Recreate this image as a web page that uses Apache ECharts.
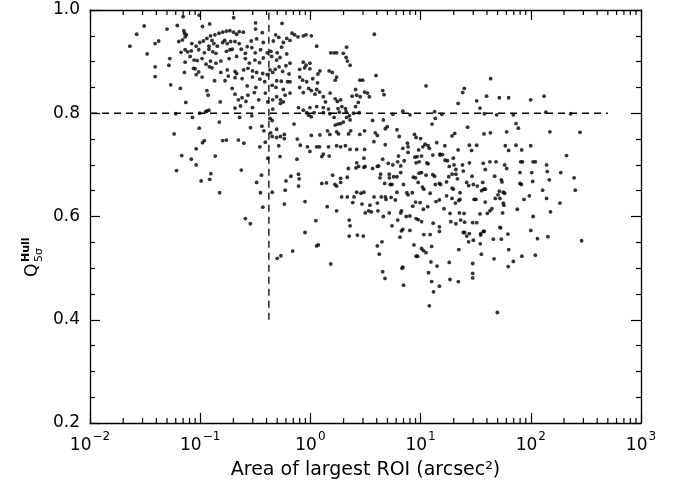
<!DOCTYPE html>
<html><head><meta charset="utf-8">
<script src="https://cdn.jsdelivr.net/npm/echarts@6/dist/echarts.min.js"></script>
<style>html,body{margin:0;padding:0;background:#fff}#c{width:683px;height:488px}</style>
</head><body><div id="c"></div>
<script>
// ---- data ----
const xTickExponents = [-2, -1, 0, 1, 2, 3];
const minorMultipliers = [2, 3, 4, 5, 6, 7, 8, 9];
const yTickValues = [0.2, 0.4, 0.6, 0.8, 1.0];
const thresholdArea = 0.42;     // vertical dashed line
const thresholdAreaFrom = 0.4;  // vertical line starts at Q = 0.4
const thresholdQ = 0.8;         // horizontal dashed line
const thresholdQEnd = 500;      // horizontal line ends at area = 500
const xTitle = 'Area of largest ROI (arcsec\u00B2)';

const roiPoints = [
[0.070,0.987],[0.098,0.990],[0.201,0.985],[0.318,0.975],[0.553,0.974],[0.062,0.970],[0.031,0.969],[0.050,0.963],[0.071,0.960],[0.072,0.955],[0.075,0.952],[0.0265,0.953],[0.105,0.968],[0.122,0.973],
[0.115,0.945],[0.124,0.950],[0.136,0.952],[0.148,0.955],[0.160,0.957],[0.173,0.959],[0.186,0.960],[0.201,0.957],[0.214,0.953],[0.226,0.958],[0.246,0.957],
[0.318,0.963],[0.366,0.956],[0.484,0.952],[0.461,0.940],
[0.681,0.955],[0.719,0.952],[0.771,0.948],[0.862,0.950],[0.912,0.952],[1.02,0.950],
[3.80,0.953],
[0.042,0.940],[0.039,0.935],[0.023,0.930],[0.064,0.939],[0.073,0.948],[0.069,0.942],
[0.084,0.935],[0.092,0.930],[0.099,0.937],[0.107,0.940],[0.120,0.930],[0.128,0.941],[0.133,0.935],[0.143,0.930],[0.160,0.937],[0.167,0.941],[0.176,0.935],[0.189,0.939],[0.207,0.939],[0.226,0.935],
[0.267,0.929],[0.290,0.940],[0.325,0.944],[0.374,0.937],[0.516,0.947],[0.568,0.937],[0.61,0.945],[0.653,0.941],
[1.14,0.930],[2.13,0.928],
[0.033,0.915],[0.067,0.918],[0.073,0.923],[0.077,0.919],[0.083,0.921],[0.097,0.923],[0.109,0.917],[0.120,0.924],[0.130,0.919],[0.139,0.916],[0.173,0.920],[0.186,0.923],[0.195,0.924],[0.236,0.924],[0.257,0.916],[0.294,0.927],[0.316,0.917],[0.353,0.923],[0.406,0.917],[0.439,0.920],[0.50,0.917],[0.548,0.928],[0.61,0.915],
[1.53,0.917],[1.64,0.917],[1.73,0.917],[1.99,0.916],[2.11,0.908],[2.17,0.901],[2.29,0.893],
[0.053,0.906],[0.052,0.893],[0.073,0.899],[0.081,0.910],[0.088,0.903],[0.094,0.902],[0.104,0.906],[0.113,0.895],[0.124,0.901],[0.139,0.897],[0.154,0.901],[0.183,0.906],[0.214,0.910],[0.257,0.906],[0.279,0.897],[0.314,0.903],[0.345,0.898],[0.374,0.907],[0.445,0.910],[0.494,0.903],[0.53,0.908],[0.60,0.892],[0.653,0.897],
[0.862,0.899],[0.912,0.893],[0.99,0.897],
[0.039,0.890],[0.087,0.887],[0.072,0.879],
[0.090,0.886],[0.097,0.880],[0.121,0.890],[0.128,0.888],[0.154,0.879],[0.176,0.884],[0.207,0.881],[0.214,0.877],[0.248,0.884],[0.271,0.887],[0.298,0.882],[0.325,0.879],[0.369,0.877],[0.43,0.884],[0.48,0.885],[0.52,0.890],[0.56,0.881],[0.64,0.876],
[0.80,0.885],[0.886,0.888],[0.99,0.886],[1.17,0.876],[1.22,0.882],[1.48,0.882],[1.58,0.879],[1.73,0.870],
[0.039,0.871],[0.104,0.870],[0.092,0.875],[0.18,0.872],[0.207,0.869],[0.24,0.867],[0.298,0.870],[0.348,0.866],[0.406,0.875],[0.455,0.879],[0.494,0.863],[0.544,0.862],[0.62,0.861],[0.653,0.861],
[0.80,0.870],[0.85,0.864],[0.925,0.861],[1.05,0.867],[1.16,0.859],[1.68,0.864],
[2.81,0.864],[2.98,0.864],[3.94,0.873],
[0.054,0.855],[0.066,0.848],[0.135,0.863],[0.168,0.863],[0.195,0.848],[0.267,0.853],[0.32,0.850],[0.385,0.861],[0.45,0.854],[0.487,0.850],[0.568,0.846],
[0.115,0.844],[0.118,0.835],[0.152,0.822],[0.207,0.837],[0.222,0.826],[0.24,0.830],[0.271,0.835],[0.31,0.840],[0.34,0.826],[0.39,0.839],[0.455,0.826],[0.494,0.832],[0.535,0.826],[0.59,0.835],[0.653,0.839],
[0.80,0.850],[0.862,0.840],[0.965,0.848],[1.02,0.844],[1.10,0.837],[1.14,0.846],[1.21,0.841],[1.31,0.832],[1.37,0.822],[1.51,0.839],[1.68,0.828],[1.76,0.823],[1.88,0.826],
[2.57,0.846],[2.63,0.835],[2.39,0.833],[2.83,0.832],[3.1,0.841],[3.3,0.839],[3.43,0.832],[4.53,0.844],[4.66,0.836],
[0.074,0.821],[0.115,0.804],[0.120,0.806],[0.207,0.810],[0.232,0.814],[0.26,0.823],[0.298,0.811],[0.41,0.822],[0.455,0.808],[0.535,0.819],[0.568,0.822],
[0.78,0.811],[0.862,0.806],[0.99,0.811],[1.14,0.813],[1.31,0.811],[1.46,0.808],[1.78,0.809],[1.93,0.813],[2.08,0.809],[2.57,0.813],[2.72,0.821],
[0.06,0.799],[0.085,0.792],[0.099,0.800],[0.112,0.803],
[0.228,0.792],[0.294,0.795],[0.43,0.790],[0.45,0.786],[0.925,0.801],[0.965,0.796],[1.02,0.793],[1.08,0.801],[1.31,0.801],[1.50,0.799],[1.64,0.792],[1.83,0.802],[2.11,0.803],[2.26,0.795],[2.46,0.800],[2.77,0.801],[3.67,0.786],[4.59,0.787],[4.98,0.774],[4.78,0.770],
[0.098,0.771],[0.149,0.783],[0.286,0.772],[0.363,0.775],[0.379,0.766],[0.436,0.762],[0.494,0.769],[0.535,0.755],[0.58,0.759],[0.71,0.779],
[1.02,0.757],[1.22,0.758],[1.43,0.766],[1.50,0.759],[1.68,0.777],[1.78,0.779],[1.88,0.780],[1.99,0.783],[2.13,0.792],[2.29,0.787],[1.73,0.764],[1.80,0.760],[2.22,0.760],[2.32,0.766],[2.81,0.759],[3.1,0.766],[3.88,0.762],[4.05,0.757],
[0.058,0.760],
[0.105,0.743],[0.109,0.747],[0.160,0.747],[0.173,0.748],[0.222,0.748],[0.249,0.742],[0.348,0.735],[0.39,0.744],[0.45,0.755],[0.494,0.753],[0.516,0.737],[0.58,0.751],
[0.76,0.750],[0.81,0.738],[0.94,0.735],[0.99,0.726],[1.14,0.735],[1.21,0.735],[1.46,0.735],[1.73,0.737],[1.88,0.735],[2.08,0.737],[2.29,0.730],[2.63,0.730],[3.1,0.730],[3.77,0.745],[4.78,0.739],
[0.092,0.731],
[11.2,0.853],[21.9,0.819],[24.1,0.840],[24.9,0.848],[32.3,0.824],[34.6,0.810],[37.9,0.799],[39.7,0.833],[43.2,0.867],[51.8,0.830],[62.9,0.830],[49,0.797],[69.4,0.797],[73.4,0.780],[77.1,0.771],[99.8,0.826],[132,0.833],[137,0.802],[149,0.764],[230,0.799],[280,0.763],[37.6,0.760],[43,0.762],[60.4,0.764],[58.7,0.737],[62.9,0.728],[73.4,0.738],[82.6,0.729],[99.8,0.737],[27.7,0.738],[29,0.728],[32.3,0.738],[19.3,0.756],[20.4,0.761],[21.9,0.729],[26.7,0.773],[12.7,0.779],[13.6,0.790],[13.4,0.803],[15.6,0.798],[14,0.743],[16.6,0.737],[15,0.721],[11.7,0.737],[12,0.732],[11,0.740],[10,0.751],[9.1,0.753],[10.5,0.735],[9.6,0.729],[8.8,0.759],[5.6,0.798],[6.9,0.804],[8.0,0.797],[6.1,0.768],[6.4,0.755],[6.9,0.732],[7.6,0.742],[7.7,0.735],[7.7,0.724],
[0.068,0.718],[0.083,0.711],[0.092,0.700],[0.061,0.689],[0.137,0.717],[0.102,0.669],[0.122,0.672],[0.125,0.683],[0.15,0.646],[0.236,0.690],[0.41,0.713],[0.53,0.716],[0.755,0.711],[0.325,0.666],[0.36,0.680],[0.352,0.646],[0.37,0.618],[0.45,0.647],[0.257,0.596],[0.285,0.586],[0.58,0.624],[0.59,0.651],[0.60,0.669],[0.665,0.678],[0.78,0.682],[0.79,0.673],[0.78,0.659],[0.69,0.533],[0.54,0.524],[0.50,0.519],
[1.27,0.716],[1.31,0.721],[1.48,0.717],[3.06,0.713],[4.53,0.711],[5.09,0.703],
[1.27,0.664],[1.40,0.665],[1.59,0.680],[1.67,0.662],[1.73,0.659],[1.88,0.674],[1.88,0.666],[2.16,0.676],[2.21,0.693],[2.63,0.704],[2.59,0.694],[2.74,0.697],[3.06,0.695],[3.13,0.697],[3.67,0.693],[4.05,0.697],[4.16,0.698],[4.34,0.682],[4.28,0.675],[5.2,0.682],[5.2,0.675],[4.72,0.664],
[0.893,0.629],[1.42,0.619],[1.73,0.611],[1.92,0.638],[2.16,0.638],[2.42,0.627],[2.49,0.638],[2.63,0.647],[2.88,0.645],[2.94,0.624],[3.06,0.647],[3.15,0.607],[3.38,0.611],[3.47,0.622],[3.57,0.609],[3.78,0.638],[4.05,0.626],[4.10,0.611],[4.40,0.638],[4.59,0.600],[4.79,0.638],[4.85,0.633],[5.2,0.607],
[0.893,0.569],[1.12,0.592],[1.14,0.543],[1.18,0.545],[2.25,0.593],[2.29,0.582],[2.25,0.562],[2.67,0.564],[3.02,0.562],[4.05,0.543],[4.22,0.527],[4.46,0.551],[1.53,0.508],[4.53,0.493],[4.75,0.480],
[5.6,0.700],[6.2,0.706],[6.3,0.717],[6.6,0.698],[7.1,0.708],[8.9,0.715],[9.3,0.716],[9.1,0.704],[9.7,0.706],[10.2,0.717],[11.4,0.704],[11.7,0.702],[12.9,0.719],[15,0.719],[15.8,0.720],[16.7,0.709],[17.5,0.708],[18.2,0.697],[19.8,0.713],[20.1,0.700],[20.9,0.691],[24,0.700],[27.7,0.704],[37,0.703],[38.6,0.691],[42.6,0.706],[48.3,0.706],[57.9,0.700],[60.4,0.693],[81,0.706],[84,0.706],[105,0.706],[110,0.706],[139,0.700],[141,0.687],[187,0.685],[211,0.718],[247,0.675],[253,0.651],
[5.7,0.677],[6.1,0.677],[5.3,0.662],[5.5,0.662],[6.1,0.647],[7.0,0.662],[6.6,0.685],[7.5,0.646],[7.7,0.642],[8.4,0.646],[8.6,0.676],[9.0,0.675],[9.5,0.666],[9.7,0.684],[10.2,0.685],[10.4,0.657],[10.7,0.653],[11.2,0.680],[12.2,0.645],[12.9,0.681],[13.4,0.678],[13.6,0.662],[14.8,0.664],[15.2,0.662],[17.2,0.667],[18,0.677],[19.3,0.682],[20.9,0.682],[21.6,0.673],[19.3,0.655],[19.8,0.653],[22.8,0.646],[24.4,0.688],[26.2,0.666],[27.3,0.660],[29.3,0.678],[30.1,0.662],[32.7,0.659],[35.8,0.650],[36.6,0.666],[37.6,0.653],[38.6,0.653],[47,0.678],[54,0.671],[54.8,0.667],[51.8,0.649],[56.3,0.647],[57.9,0.645],[79.8,0.685],[79.8,0.664],[82,0.662],[102,0.685],[104,0.668],[128,0.651],[147,0.671],
[5.4,0.637],[5.9,0.632],[6.2,0.593],[6.6,0.607],[6.7,0.611],[7.4,0.600],[8.0,0.601],[8.5,0.620],[9.0,0.628],[9.1,0.596],[9.5,0.594],[9.9,0.627],[10.2,0.590],[10.6,0.614],[11.6,0.619],[13.8,0.629],[14.8,0.632],[16.3,0.615],[17.2,0.640],[18.5,0.606],[18.8,0.590],[19.3,0.635],[20.7,0.626],[20.9,0.586],[22.2,0.631],[22.8,0.633],[22.5,0.607],[23.1,0.593],[24.8,0.606],[25.1,0.589],[25.1,0.569],[27.7,0.567],[29.7,0.588],[30.6,0.633],[31.8,0.633],[32.3,0.588],[34.6,0.605],[35.1,0.567],[37.1,0.571],[38.6,0.628],[40.3,0.606],[42.6,0.611],[44.4,0.615],[47.6,0.635],[50.4,0.642],[52.5,0.635],[53.2,0.578],[55.5,0.607],[56.3,0.626],[57,0.622],[75.5,0.614],[86.8,0.633],[97,0.640],[105,0.600],[139,0.635],[151,0.609],[184,0.626],
[5.5,0.582],[6.5,0.560],[6.7,0.572],[6.9,0.575],[8.0,0.573],[8.7,0.545],[9.1,0.523],[9.4,0.523],[10.2,0.538],[10.6,0.534],[10.7,0.565],[11.2,0.530],[12.2,0.565],[12.6,0.542],[13,0.587],[14.8,0.580],[14.8,0.571],[22.2,0.536],[24.4,0.569],[26.2,0.562],[27.3,0.551],[30.1,0.554],[34.8,0.547],[35.1,0.564],[35.6,0.527],[37.8,0.571],[45.7,0.556],[46.4,0.518],[52.5,0.579],[54,0.556],[63,0.536],[69.4,0.513],[62,0.566],[83,0.523],[100,0.573],[115,0.557],[143,0.561],[289,0.553],[110,0.525],
[6.9,0.502],[6.8,0.500],[7.0,0.467],[11.8,0.491],[12.6,0.474],[12.4,0.512],[13.1,0.454],[14.1,0.504],[14.8,0.465],[18.2,0.511],[18.5,0.478],[22,0.474],[29.7,0.509],[29.7,0.490],[29.7,0.481],[62.4,0.503],[12,0.427],[49.7,0.414]
];

// ---- chart ----
const FONT = 'DejaVu Sans';
const minorTickValues = [];
xTickExponents.slice(0, -1).forEach(e => minorMultipliers.forEach(m => minorTickValues.push(+(m * Math.pow(10, e)).toPrecision(3))));

const supLabel = v => {
  const e = Math.round(Math.log10(v));
  return '{b|10}{s|' + String(e).replace('-', '\u2212') + '}';
};
const labelRich = {
  b: {fontFamily: FONT, fontSize: 17, color: '#000', verticalAlign: 'bottom'},
  s: {fontFamily: FONT, fontSize: 12, color: '#000', verticalAlign: 'top', padding: [0, 0, 11, 1]}
};

const axisCommonX = {
  type: 'log', logBase: 10,
  min: Math.pow(10, xTickExponents[0]), max: Math.pow(10, xTickExponents[xTickExponents.length - 1]),
  axisLine: {show: true, onZero: false, lineStyle: {color: '#000', width: 1.3}},
  axisTick: {show: true, inside: true, length: 10, lineStyle: {color: '#000', width: 1.2}},
  splitLine: {show: false}, minorSplitLine: {show: false}
};
const axisCommonY = {
  type: 'value', min: yTickValues[0], max: yTickValues[yTickValues.length - 1], interval: 0.2,
  axisLine: {show: true, onZero: false, lineStyle: {color: '#000', width: 1.3}},
  axisTick: {show: true, inside: true, length: 10, lineStyle: {color: '#000', width: 1.2}},
  minorTick: {show: true, splitNumber: 4, length: 5, lineStyle: {color: '#000', width: 1.2}},
  splitLine: {show: false}, minorSplitLine: {show: false}
};

const chart = echarts.init(document.getElementById('c'), null, {renderer: 'canvas'});
chart.setOption({
  animation: false,
  backgroundColor: '#fff',
  grid: {left: 90, top: 10, right: 42, bottom: 65},
  xAxis: [
    Object.assign({}, axisCommonX, {
      position: 'bottom',
      name: xTitle, nameLocation: 'middle', nameGap: 38,
      nameTextStyle: {fontFamily: FONT, fontSize: 19, color: '#000'},
      axisLabel: {show: true, margin: 8, formatter: supLabel, rich: labelRich}
    }),
    Object.assign({}, axisCommonX, {position: 'top', axisLabel: {show: false}})
  ],
  yAxis: [
    Object.assign({}, axisCommonY, {
      position: 'left',
      axisLabel: {show: true, margin: 10, fontFamily: FONT, fontSize: 17, color: '#000', formatter: v => v.toFixed(1)}
    }),
    Object.assign({}, axisCommonY, {position: 'right', axisLabel: {show: false}})
  ],
  graphic: [{
    type: 'group', x: 33, y: 277, rotation: Math.PI / 2,
    children: [
      {type: 'text', x: 0, y: 0, style: {text: 'Q', fontFamily: FONT, fontSize: 17, fill: '#000', align: 'left', verticalAlign: 'middle'}},
      {type: 'text', x: 15, y: -7, style: {text: 'Hull', fontFamily: FONT, fontSize: 11, fontWeight: 'bold', fill: '#000', align: 'left', verticalAlign: 'middle'}},
      {type: 'text', x: 15, y: 6, style: {text: '5\u03C3', fontFamily: FONT, fontSize: 11, fill: '#000', align: 'left', verticalAlign: 'middle'}}
    ]
  }],
  series: [
    {
      type: 'custom', xAxisIndex: 0, yAxisIndex: 0, silent: true, z: 5,
      data: minorTickValues.map(v => [v, yTickValues[0]]),
      renderItem: (params, api) => {
        const v = api.value(0);
        const b = api.coord([v, yTickValues[0]]);
        const t = api.coord([v, yTickValues[yTickValues.length - 1]]);
        return {type: 'group', children: [
          {type: 'line', shape: {x1: b[0], y1: b[1], x2: b[0], y2: b[1] - 5}, style: {stroke: '#000', lineWidth: 1.2}},
          {type: 'line', shape: {x1: t[0], y1: t[1], x2: t[0], y2: t[1] + 5}, style: {stroke: '#000', lineWidth: 1.2}}
        ]};
      }
    },
    {
      type: 'line', silent: true, symbol: 'none', z: 3,
      data: [[Math.pow(10, xTickExponents[0]), thresholdQ], [thresholdQEnd, thresholdQ]],
      lineStyle: {color: '#000', width: 1.3, type: [7, 5]}
    },
    {
      type: 'line', silent: true, symbol: 'none', z: 3,
      data: [[thresholdArea, thresholdAreaFrom], [thresholdArea, yTickValues[yTickValues.length - 1]]],
      lineStyle: {color: '#000', width: 1.3, type: [7, 5]}
    },
    {
      type: 'scatter', silent: true, z: 4,
      data: roiPoints,
      symbol: 'circle', symbolSize: 3.8,
      itemStyle: {color: '#000', borderWidth: 0}
    }
  ]
});
</script>
</body></html>
